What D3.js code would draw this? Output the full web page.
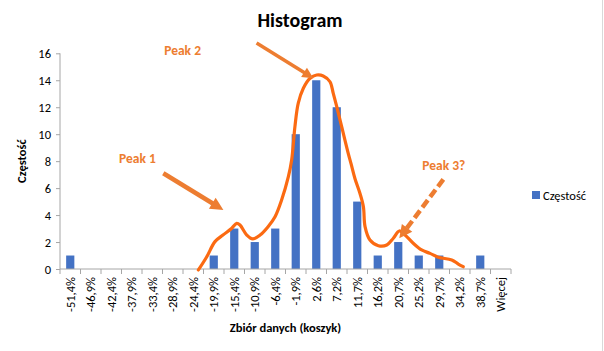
<!DOCTYPE html>
<html><head><meta charset="utf-8">
<script src="https://cdn.jsdelivr.net/npm/d3@7"></script>
<style>
body{margin:0;background:#fff;}
text{font-family:Carlito,Lato,"Liberation Sans",sans-serif;}
</style></head>
<body><svg id="c" width="604" height="351"></svg>
<script>
const categories = ["-51,4%","-46,9%","-42,4%","-37,9%","-33,4%","-28,9%","-24,4%","-19,9%","-15,4%","-10,9%","-6,4%","-1,9%","2,6%","7,2%","11,7%","16,2%","20,7%","25,2%","29,7%","34,2%","38,7%","Więcej"];
const values = [1,0,0,0,0,0,0,1,3,2,3,10,14,12,5,1,2,1,1,0,1,0];
const yTicks = [0,2,4,6,8,10,12,14,16];
// hand-drawn curve: position in category units, value
const curveX = [6.75,7.16,7.56,7.95,8.38,8.62,8.78,9.11,9.40,9.76,10.15,10.49,10.81,11.14,11.30,11.46,11.62,11.87,12.20,12.52,12.84,13.17,13.33,13.50,13.74,14.06,14.20,14.39,14.63,14.80,14.88,15.12,15.53,15.94,16.26,16.55,16.83,17.23,17.64,18.05,18.45,19.11,19.43,19.67];
const curveY = [-0.07,0.91,2.03,2.52,3.02,3.39,3.26,2.52,2.23,2.52,3.14,3.88,5.12,6.85,8.09,10.56,12.29,13.41,14.15,14.39,14.32,13.89,13.03,12.04,10.56,8.58,7.8,6.70,5.62,4.62,3.14,2.15,1.73,1.78,2.28,2.82,2.52,1.91,1.41,1.16,0.87,0.67,0.37,0.17];
const annoLabels = ["Peak 1","Peak 2","Peak 3?"];
const annoLabelX = [3.78,5.98,18.72];
const annoLabelY = [8.23,16.19,7.66];
const arrowFromX = [5.04,9.59,18.70];
const arrowFromY = [7.10,16.77,6.65];
const arrowToX = [7.97,12.36,16.55];
const arrowToY = [4.38,14.15,2.28];
const seriesName = "Częstość";

const svg = d3.select("#c");
const L=60, R=511, T=53.3, B=269;
const x = d3.scaleBand().domain(categories).range([L,R]).padding(0);
const xc = d3.scaleLinear().domain([0,categories.length]).range([L,R]);
const y = d3.scaleLinear().domain([0,16]).range([B,T]);

svg.append("line").attr("x1",602.5).attr("x2",602.5).attr("y1",0).attr("y2",351).attr("stroke","#d9d9d9");

// title
svg.append("text").attr("x",300).attr("y",27).attr("text-anchor","middle")
  .attr("font-size",20).attr("font-weight","bold").attr("fill","#000").text("Histogram");

// y axis
const ya = svg.append("g").attr("transform",`translate(${L},0)`)
  .call(d3.axisLeft(y).tickValues(yTicks).tickSize(4).tickPadding(5));
ya.selectAll("path,line").attr("stroke","#a6a6a6");
ya.select("path").attr("d",`M0,${T}V${B}`);
ya.selectAll("text").attr("font-size",12.5).attr("fill","#000").style("font-family","Carlito,Lato,sans-serif");

// bars
const bw = x.bandwidth()/2.5;
svg.append("g").selectAll("rect").data(values).join("rect")
  .attr("x",(d,i)=>x(categories[i])+(x.bandwidth()-bw)/2)
  .attr("width",bw)
  .attr("y",d=>y(d)).attr("height",d=>B-y(d))
  .attr("fill","#4472c4");

// x axis
const xg = svg.append("g").attr("transform",`translate(0,${B})`);
xg.append("line").attr("x1",L).attr("x2",R).attr("stroke","#a6a6a6");
xg.selectAll("line.t").data(d3.range(categories.length+1)).join("line").attr("class","t")
  .attr("x1",d=>xc(d)).attr("x2",d=>xc(d)).attr("y1",0).attr("y2",5).attr("stroke","#a6a6a6");
xg.selectAll("text").data(categories).join("text")
  .attr("transform",d=>`translate(${x(d)+x.bandwidth()/2+4.5},8) rotate(-90)`)
  .attr("text-anchor","end").attr("font-size",12.5).attr("fill","#000").text(d=>d);

// axis titles
svg.append("text").attr("transform",`translate(26,${(T+B)/2}) rotate(-90)`).attr("text-anchor","middle")
  .attr("font-size",12.5).attr("font-weight","bold").text("Częstość");
svg.append("text").attr("x",(L+R)/2).attr("y",332).attr("text-anchor","middle")
  .attr("font-size",12.5).attr("font-weight","bold").text("Zbiór danych (koszyk)");

// legend
svg.append("rect").attr("x",532).attr("y",191).attr("width",8).attr("height",8).attr("fill","#4472c4");
svg.append("text").attr("x",543).attr("y",199.5).attr("font-size",12.5).attr("fill","#000").text(seriesName);

// curve
const pts = curveX.map((v,i)=>[xc(v),y(curveY[i])]);
svg.append("path").attr("d",d3.line().curve(d3.curveCatmullRom.alpha(0.5))(pts))
  .attr("fill","none").attr("stroke","#fb6a12").attr("stroke-width",3.2).attr("stroke-linejoin","round").attr("stroke-linecap","round");

// annotations
const aCol="#ed7d31";
const widths=[4.5,3.5,4.5], heads=[13,11,13];
annoLabels.forEach((t,i)=>{
  svg.append("text").attr("x",xc(annoLabelX[i])).attr("y",y(annoLabelY[i])+4.5).attr("text-anchor","middle")
    .attr("font-size",13.5).attr("font-weight","bold").attr("fill",aCol).text(t);
  const x1=xc(arrowFromX[i]), y1=y(arrowFromY[i]), x2=xc(arrowToX[i]), y2=y(arrowToY[i]);
  const dx=x2-x1, dy=y2-y1, len=Math.hypot(dx,dy), ux=dx/len, uy=dy/len;
  const h=heads[i], bx=x2-ux*h, by=y2-uy*h;
  svg.append("line").attr("x1",x1).attr("y1",y1).attr("x2",bx+ux*2).attr("y2",by+uy*2)
    .attr("stroke",aCol).attr("stroke-width",widths[i])
    .attr("stroke-dasharray",i===2?"9,4":null);
  const w=h*0.5;
  svg.append("path").attr("d",`M${x2},${y2}L${bx-uy*w},${by+ux*w}L${bx+uy*w},${by-ux*w}Z`).attr("fill",aCol);
});
</script></body></html>
